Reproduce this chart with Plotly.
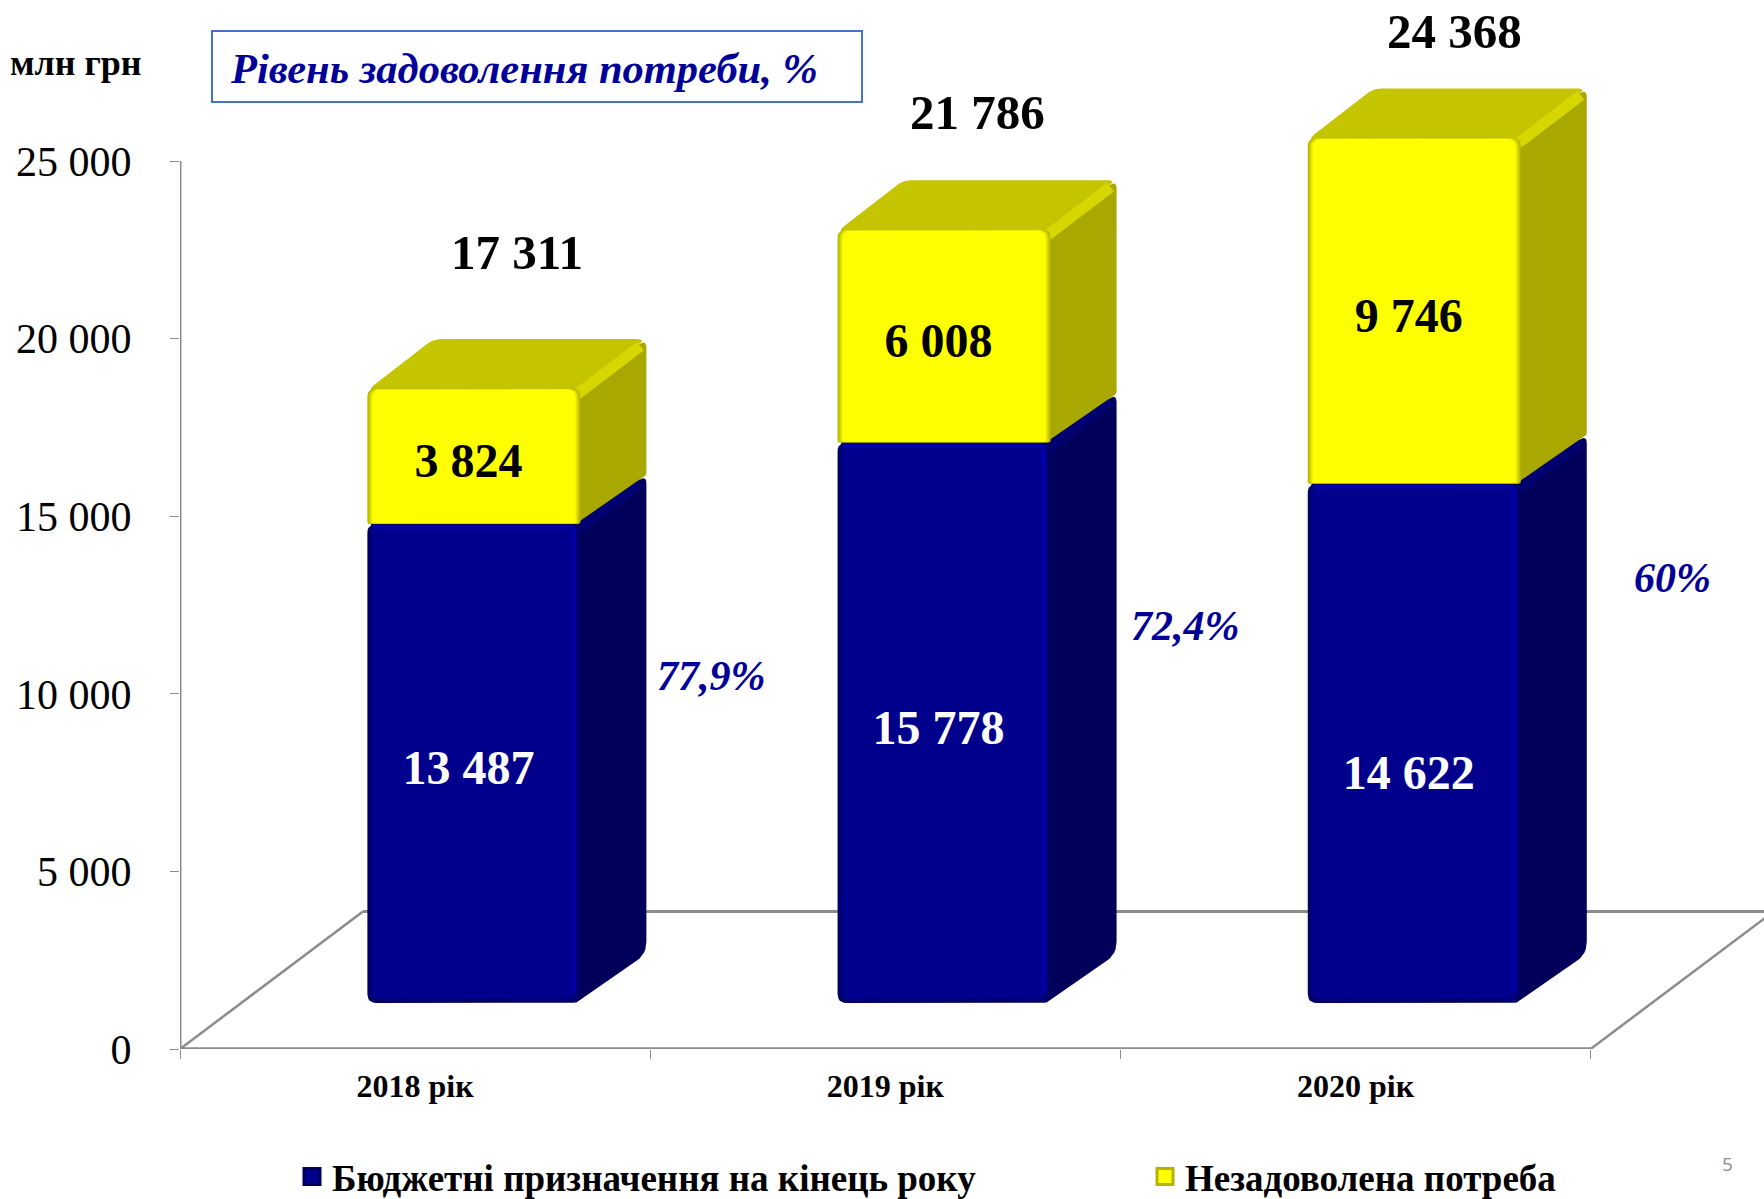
import plotly.graph_objects as go

YEARS = ["2018 рік", "2019 рік", "2020 рік"]
BUDGET = [13487, 15778, 14622]
UNMET = [3824, 6008, 9746]
TOTALS = [17311, 21786, 24368]
SHARES = ["77,9%", "72,4%", "60%"]
Y_TICKS = [0, 5000, 10000, 15000, 20000, 25000]
Y_TICK_TEXT = ["0", "5 000", "10 000", "15 000", "20 000", "25 000"]
SERIES_NAMES = ["Бюджетні призначення на кінець року", "Незадоволена потреба"]

# page geometry, px
LEFT, AXIS_Y, WIDTH, HEIGHT = 180, 1049, 1764, 1199
PLOT_W = WIDTH - LEFT
PX_PER_CAT = 470.2
PX_PER_VAL = 888 / 25000
X_MAX = -0.5 + PLOT_W / PX_PER_CAT
Y_MAX = AXIS_Y / PX_PER_VAL

# fake 3d geometry
BAR_SHIFT = 0.125
BAR_W = 213 / PX_PER_CAT
FRONT_BASE = 46 / PX_PER_VAL
DEPTH_X = 66 / PX_PER_CAT
DEPTH_Y = 49 / PX_PER_VAL
FLOOR_X = 183 / PX_PER_CAT
FLOOR_Y = 137.5 / PX_PER_VAL

GREY = "#8c8c8c"
NAVY = "#000099"
SERIF = "Liberation Serif"

BLUE = dict(face="#00008c", edge="#00005c", side="#00005a", top="#00005a", ridge="#000070", lit="#0000a4")
YELLOW = dict(face="#ffff00", edge="#b4b400", side="#a8a800", top="#c4c400", ridge="#d6d600", lit=None)


def paper_x(px):
    return (px - LEFT) / PLOT_W


def paper_y(py):
    return (AXIS_Y - py) / AXIS_Y


def mix(c1, c2, t):
    a = [int(c1[i:i + 2], 16) for i in (1, 3, 5)]
    b = [int(c2[i:i + 2], 16) for i in (1, 3, 5)]
    return "#" + "".join(f"{round(p + (q - p) * t):02x}" for p, q in zip(a, b))


def rounded(points, radii):
    """Closed outline in data units, each corner rounded by a radius in px."""
    pts = [(x * PX_PER_CAT, y * PX_PER_VAL) for x, y in points]
    xs, ys = [], []
    n = len(pts)
    for i, (x, y) in enumerate(pts):
        px, py = pts[i - 1]
        nx, ny = pts[(i + 1) % n]
        d1 = ((px - x) ** 2 + (py - y) ** 2) ** 0.5
        d2 = ((nx - x) ** 2 + (ny - y) ** 2) ** 0.5
        r = min(radii[i], d1 / 2, d2 / 2)
        ax, ay = x + (px - x) * r / d1, y + (py - y) * r / d1
        bx, by = x + (nx - x) * r / d2, y + (ny - y) * r / d2
        for k in range(7):
            t = k / 6
            xs.append(((1 - t) ** 2 * ax + 2 * t * (1 - t) * x + t ** 2 * bx) / PX_PER_CAT)
            ys.append(((1 - t) ** 2 * ay + 2 * t * (1 - t) * y + t ** 2 * by) / PX_PER_VAL)
    xs.append(xs[0])
    ys.append(ys[0])
    return xs, ys


def add_poly(fig, outline, color):
    fig.add_trace(go.Scatter(
        x=outline[0], y=outline[1], mode="lines", fill="toself", fillcolor=color,
        line=dict(width=0), hoverinfo="skip", showlegend=False,
    ))


def add_line(fig, xs, ys, color, width):
    fig.add_trace(go.Scatter(
        x=xs, y=ys, mode="lines", line=dict(color=color, width=width),
        hoverinfo="skip", showlegend=False, cliponaxis=False,
    ))


def add_box(fig, x0, x1, y0, y1, pal, bottom_r, floor_side, bottom_bevel):
    # side face, then top face, then the lit edge between them
    add_poly(fig, rounded([
        (x1 - 0.01, y0), (x1 - 0.01, y1),
        (x1 + DEPTH_X, y1 + DEPTH_Y), (x1 + DEPTH_X, y0 + DEPTH_Y),
    ], [0, 0, 9, floor_side]), pal["side"])
    add_poly(fig, rounded([
        (x0, y1 - 2 / PX_PER_VAL), (x1, y1 - 2 / PX_PER_VAL),
        (x1 + DEPTH_X, y1 + DEPTH_Y), (x0 + DEPTH_X, y1 + DEPTH_Y),
    ], [8, 0, 10, 8]), pal["top"])
    add_line(fig, [x1 - 3 / PX_PER_CAT, x1 + DEPTH_X - 6 / PX_PER_CAT],
             [y1 - 6 / PX_PER_VAL, y1 + DEPTH_Y - 7 / PX_PER_VAL], pal["ridge"], 11)
    # front face: nested outlines give the soft bevel, thinner along the top
    for step in range(6):
        ix = step / PX_PER_CAT
        top = 0.3 * step / PX_PER_VAL
        bottom = bottom_bevel * step / PX_PER_VAL
        add_poly(fig, rounded([
            (x0 + ix, y0 + bottom), (x1 - ix, y0 + bottom), (x1 - ix, y1 - top), (x0 + ix, y1 - top),
        ], [bottom_r, bottom_r, 9, 9]), mix(pal["edge"], pal["face"], step / 5))
    if pal["lit"]:
        add_line(fig, [x1 - 7 / PX_PER_CAT] * 2, [y0 + 12 / PX_PER_VAL, y1 - 4 / PX_PER_VAL], pal["lit"], 5)
        add_line(fig, [x0 + 6 / PX_PER_CAT, x1 - 7 / PX_PER_CAT], [y1 - 3 / PX_PER_VAL] * 2, pal["lit"], 4)


fig = go.Figure()

# walls and floor
left_back = -0.5 + FLOOR_X
right_back = 2.5 + FLOOR_X
add_line(fig, [-0.5, -0.5], [0, 25000], GREY, 3)
add_line(fig, [-0.5, 2.5], [0, 0], GREY, 3.5)
add_line(fig, [left_back, right_back], [FLOOR_Y, FLOOR_Y], GREY, 3)
add_line(fig, [-0.5, left_back], [0, FLOOR_Y], GREY, 2.5)
add_line(fig, [2.5, right_back], [0, FLOOR_Y], GREY, 2.5)

for i in range(len(YEARS)):
    x0 = i + BAR_SHIFT - BAR_W / 2
    x1 = i + BAR_SHIFT + BAR_W / 2
    y_mid = FRONT_BASE + BUDGET[i]
    y_top = y_mid + UNMET[i]
    add_box(fig, x0, x1, FRONT_BASE, y_mid, BLUE, 9, 12, 1)
    add_box(fig, x0, x1, y_mid, y_top, YELLOW, 2, 2, 0.2)

# value labels sit a little off the segment centres, the 2020 one lower still
TEXT_DX = -5.5 / PX_PER_CAT
TEXT_DROP = 9 / PX_PER_VAL
BUDGET_NUDGE = [0, 0, 25 / PX_PER_VAL]
centers = [i + BAR_SHIFT + TEXT_DX for i in range(len(YEARS))]
fig.add_trace(go.Scatter(
    x=centers, y=[FRONT_BASE + v / 2 - TEXT_DROP - n for v, n in zip(BUDGET, BUDGET_NUDGE)], mode="text",
    text=[f"{v:,}".replace(",", " ") for v in BUDGET],
    textfont=dict(family=SERIF, size=48, color="white", weight="bold"),
    hoverinfo="skip", showlegend=False,
))
fig.add_trace(go.Scatter(
    x=centers, y=[FRONT_BASE + b + u / 2 - TEXT_DROP for b, u in zip(BUDGET, UNMET)], mode="text",
    text=[f"{v:,}".replace(",", " ") for v in UNMET],
    textfont=dict(family=SERIF, size=48, color="black", weight="bold"),
    hoverinfo="skip", showlegend=False,
))

# legend entries only, one legend each so they can sit apart
for name, pal, legend_id in zip(SERIES_NAMES, (BLUE, YELLOW), ("legend", "legend2")):
    fig.add_trace(go.Scatter(
        x=[None], y=[None], mode="markers", name=name, legend=legend_id,
        marker=dict(symbol="square", size=16, color=pal["face"],
                    line=dict(color=pal["edge"], width=3)),
    ))

# hand-placed labels, px
TOTAL_POS = [(517, 253), (977, 112), (1454, 31)]
SHARE_POS = [(711, 676), (1185, 626), (1672, 578)]
for value, (px, py) in zip(TOTALS, TOTAL_POS):
    fig.add_annotation(
        x=paper_x(px), y=paper_y(py), xref="paper", yref="paper", showarrow=False,
        xanchor="center", yanchor="middle", text=f"{value:,}".replace(",", " "),
        font=dict(family=SERIF, size=49, color="black", weight="bold"),
    )
for share, (px, py) in zip(SHARES, SHARE_POS):
    fig.add_annotation(
        x=paper_x(px), y=paper_y(py), xref="paper", yref="paper", showarrow=False,
        xanchor="center", yanchor="middle",
        text=f"<b><i>{share}</i></b>", font=dict(family=SERIF, size=42, color=NAVY),
    )

fig.add_annotation(
    x=paper_x(75.5), y=paper_y(63), xref="paper", yref="paper", showarrow=False,
    xanchor="center", yanchor="middle",
    text="<b>млн грн</b>", font=dict(family=SERIF, size=36, color="black"),
)
fig.add_shape(
    type="rect", xref="paper", yref="paper",
    x0=paper_x(212), x1=paper_x(862), y0=paper_y(102), y1=paper_y(31),
    line=dict(color="#4472c4", width=2), fillcolor="white",
)
fig.add_annotation(
    x=paper_x(228), y=paper_y(68), xref="paper", yref="paper", showarrow=False,
    xanchor="left", yanchor="middle", text="<b><i>Рівень задоволення потреби, %</i></b>",
    font=dict(family=SERIF, size=42.5, color=NAVY),
)
fig.add_annotation(
    x=paper_x(1727), y=paper_y(1164), xref="paper", yref="paper", showarrow=False,
    xanchor="center", yanchor="middle",
    text="5", font=dict(family="Open Sans", size=19, color="#8b8b8b"),
)

LEGEND_FONT = dict(family=SERIF, size=37, color="black", weight="bold")
fig.update_layout(
    width=WIDTH,
    height=HEIGHT,
    margin=dict(l=LEFT, r=0, t=0, b=HEIGHT - AXIS_Y, autoexpand=False),
    plot_bgcolor="white",
    paper_bgcolor="white",
    font=dict(family=SERIF, color="black"),
    xaxis=dict(
        range=[-0.5, X_MAX], showgrid=False, zeroline=False, showline=False,
        tickvals=[0, 1, 2], ticktext=YEARS, ticks="", ticklabelstandoff=15,
        tickfont=dict(family=SERIF, size=32, color="black", weight="bold"),
        minor=dict(tickvals=[-0.5, 0.5, 1.5, 2.5], ticks="outside", ticklen=9,
                   tickcolor=GREY, tickwidth=1),
    ),
    yaxis=dict(
        range=[0, Y_MAX], showgrid=False, zeroline=False, showline=False,
        tickvals=Y_TICKS, ticktext=Y_TICK_TEXT, ticks="outside", ticklen=9,
        tickcolor=GREY, tickwidth=1, ticklabelstandoff=30,
        tickfont=dict(family=SERIF, size=42, color="black"),
    ),
    legend=dict(
        x=paper_x(292), y=paper_y(1177), xanchor="left", yanchor="middle",
        itemsizing="trace", bgcolor="rgba(0,0,0,0)", font=LEGEND_FONT,
    ),
    legend2=dict(
        x=paper_x(1145), y=paper_y(1177), xanchor="left", yanchor="middle",
        itemsizing="trace", bgcolor="rgba(0,0,0,0)", font=LEGEND_FONT,
    ),
)

fig.write_html("out.html", config={"displayModeBar": False},
               post_script="document.body.style.margin='0';")
